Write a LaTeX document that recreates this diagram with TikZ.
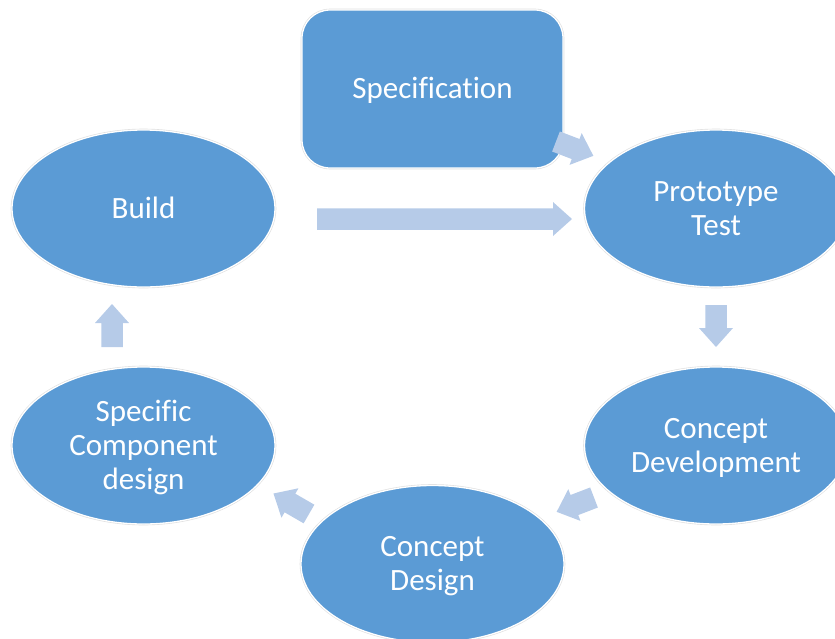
\documentclass[tikz,border=0pt]{standalone}
\usepackage{fontspec}
\setmainfont[Ligatures=NoCommon]{Carlito}
\usetikzlibrary{shapes.geometric}
\definecolor{stagefill}{HTML}{5B9BD5}
\definecolor{flowfill}{HTML}{B6CBE8}
% struts: 28.2pt above the first baseline, 8.8pt below the last one
\newcommand{\firststrut}{\rule{0pt}{28.2pt}}
\newcommand{\laststrut}{\rule[-8.8pt]{0pt}{8.8pt}}
% stage caption: struts on the first and the last line fix the block's extent
\newcommand{\stagecaption}[1]{\firststrut#1\laststrut}
\tikzset{
  stage/.style={fill=stagefill, draw=white, line width=1.3pt, inner sep=0pt,
    text=white, align=center, font=\fontsize{31}{34}\selectfont,
    preaction={draw=black!12, line width=2.6pt}},
  oval/.style={stage, ellipse, minimum width=263pt, minimum height=157pt},
  card/.style={stage, rectangle, rounded corners=28pt,
    minimum width=261pt, minimum height=158pt},
  pics/blockarrow/.style={code={
    \fill[flowfill] (0,-10.75) -- (#1-19,-10.75) -- (#1-19,-17) -- (#1,0)
      -- (#1-19,17) -- (#1-19,10.75) -- (0,10.75) -- cycle;}}
}
\begin{document}
\begin{tikzpicture}[x=1pt, y=-1pt]
  \useasboundingbox (0,0) rectangle (835,638);
  \begin{scope}
    \clip (0,0) rectangle (835,638);
    % process stages
    \node[card] (spec)    at (432.5, 89)   {\stagecaption{Specification}};
    \node[oval] (build)   at (143.5,208.5) {\stagecaption{Build}};
    \node[oval] (proto)   at (716,  208.5) {\stagecaption{Prototype\\Test}};
    \node[oval] (cdev)    at (716,  445.5) {\stagecaption{Concept\\Development}};
    \node[oval] (cdesign) at (432.5,564)   {\stagecaption{Concept\\Design}};
    \node[oval] (scd)     at (143.5,445.5) {\stagecaption{Specific\\Component\\design}};
  \end{scope}
  % tails of the block arrows between stages
  \coordinate (specout)   at (556,141.5);
  \coordinate (buildout)  at (317,219);
  \coordinate (protoout)  at (716,305);
  \coordinate (cdevout)   at (594,497.5);
  \coordinate (cdesout)   at (309,514);
  \coordinate (scdout)    at (112,347);
  \pic[rotate=-21]  at (specout)  {blockarrow=40};
  \pic              at (buildout) {blockarrow=255};
  \pic[rotate=-90]  at (protoout) {blockarrow=42};
  \pic[rotate=-159] at (cdevout)  {blockarrow=40};
  \pic[rotate=150]  at (cdesout)  {blockarrow=41};
  \pic[rotate=90]   at (scdout)   {blockarrow=43};
\end{tikzpicture}
\end{document}
